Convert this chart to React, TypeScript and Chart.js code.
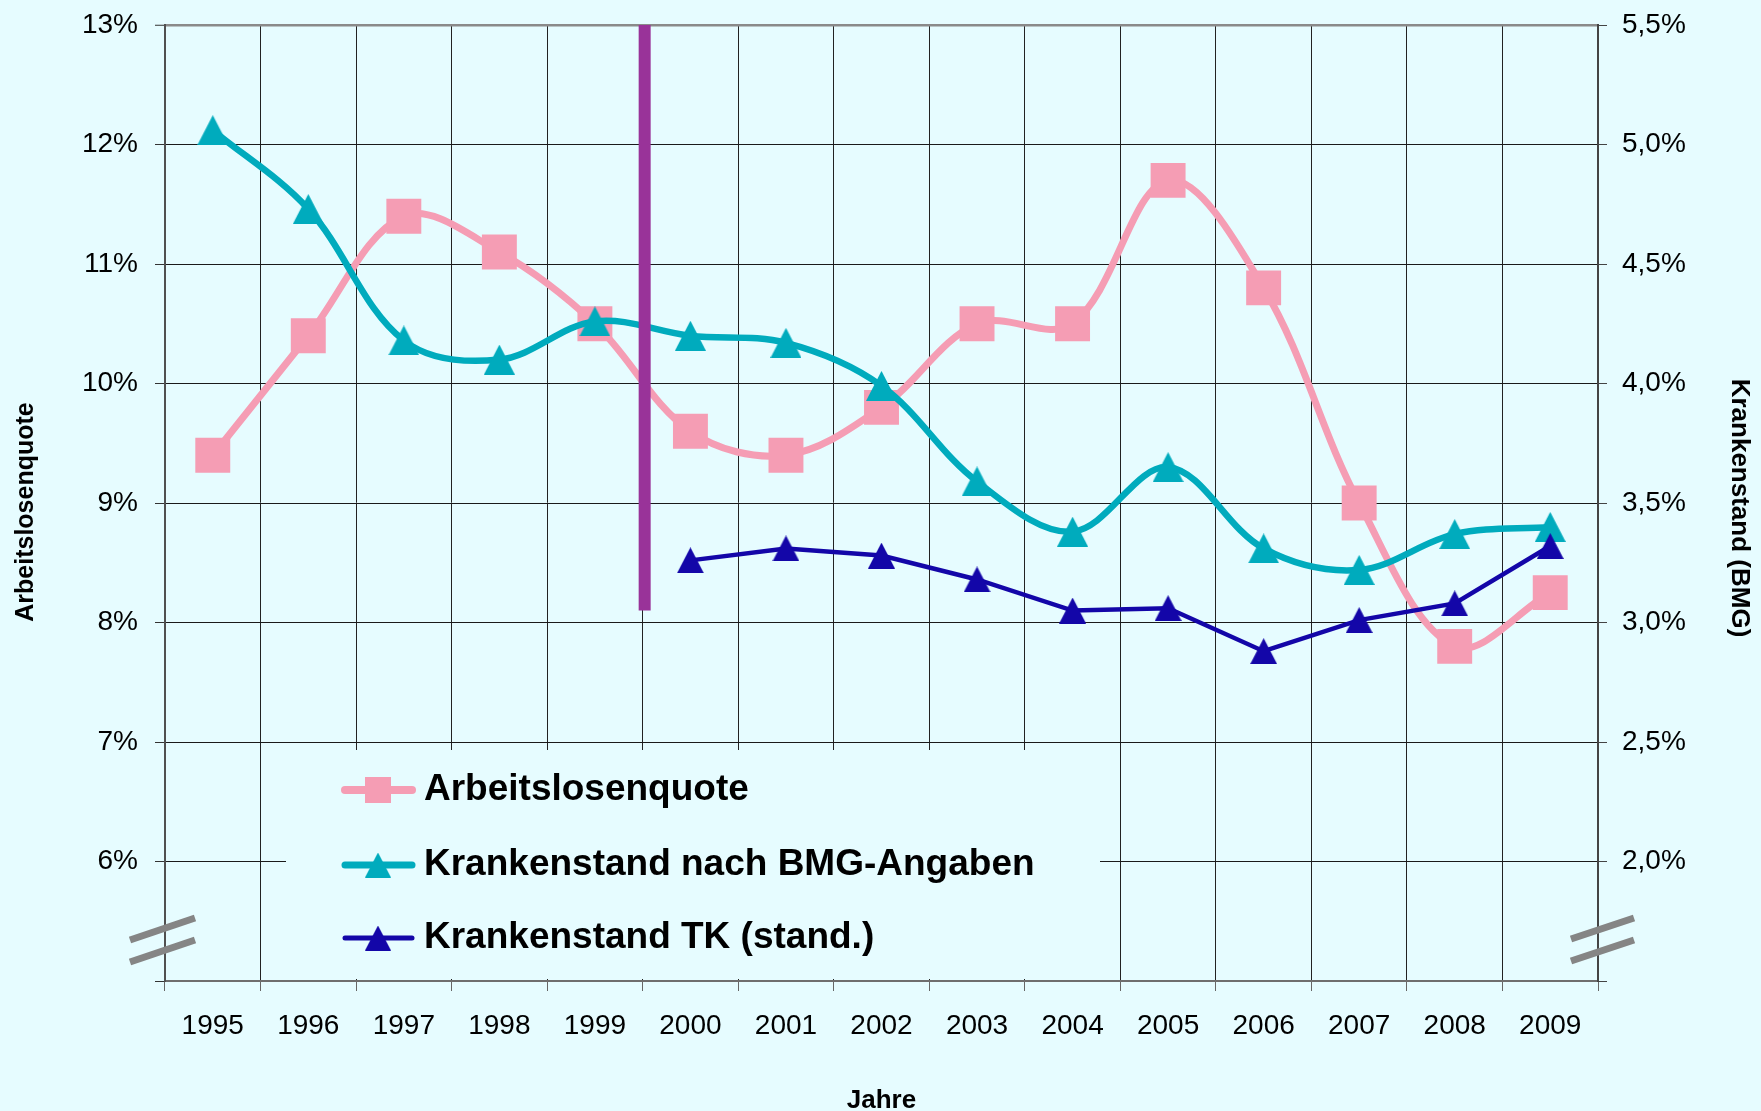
import React, { useEffect, useRef } from 'react';
import { Chart, registerables } from 'chart.js';

Chart.register(...registerables);

// ---------- data ----------
const years = ['1995', '1996', '1997', '1998', '1999', '2000', '2001', '2002', '2003', '2004', '2005', '2006', '2007', '2008', '2009'];
const arbeitslosenquote = [9.4, 10.4, 11.4, 11.1, 10.5, 9.6, 9.4, 9.8, 10.5, 10.5, 11.7, 10.8, 9.0, 7.8, 8.25];
const krankenstandBMG = [5.06, 4.73, 4.18, 4.1, 4.26, 4.2, 4.17, 3.99, 3.59, 3.38, 3.65, 3.31, 3.22, 3.37, 3.4];
const krankenstandTK = [null, null, null, null, null, 3.26, 3.31, 3.28, 3.18, 3.05, 3.06, 2.88, 3.01, 3.08, 3.32];
const seriesLabels = ['Arbeitslosenquote', 'Krankenstand nach BMG-Angaben', 'Krankenstand TK (stand.)'];
const leftAxisRange = [5, 13];
const leftAxisStep = 1;
const leftHiddenTick = 5;
const rightAxisRange = [1.5, 5.5];
const rightAxisStep = 0.5;
const rightHiddenTick = 1.5;
const leftTitle = 'Arbeitslosenquote';
const rightTitle = 'Krankenstand (BMG)';
const xTitle = 'Jahre';
const dividerAfterIndex = 4; // between 1999 and 2000
const dividerRange = [8.1, 13];

// ---------- styles ----------
const BG = '#E6FCFF';
const PINK = '#F59DB4';
const TEAL = '#00ABBD';
const NAVY = '#1306A8';
const PURPLE = '#993399';
const FONT = '"Liberation Sans", Arial, sans-serif';

function makeTriangle(w: number, h: number, color: string) {
  const c = document.createElement('canvas');
  c.width = w;
  c.height = h;
  const g = c.getContext('2d')!;
  g.fillStyle = color;
  g.beginPath();
  g.moveTo(w / 2, 0);
  g.lineTo(w, h);
  g.lineTo(0, h);
  g.closePath();
  g.fill();
  return c;
}

export default function App() {
  const ref = useRef<HTMLCanvasElement>(null);

  useEffect(() => {
    const canvas = ref.current!;
    const tealTri = makeTriangle(31, 30, TEAL);
    const navyTri = makeTriangle(27, 26, NAVY);
    const tealLegTri = makeTriangle(26, 25, TEAL);
    const navyLegTri = makeTriangle(26, 25, NAVY);

    const overlay = {
      id: 'overlay',
      afterDatasetsDraw(chart: any) {
        const { ctx, scales } = chart;
        const xs = scales.x;
        const ys = scales.y;
        const px = (xs.getPixelForValue(dividerAfterIndex) + xs.getPixelForValue(dividerAfterIndex + 1)) / 2 + 2;
        ctx.save();
        ctx.strokeStyle = PURPLE;
        ctx.lineWidth = 12;
        ctx.lineCap = 'butt';
        ctx.beginPath();
        ctx.moveTo(px, ys.getPixelForValue(dividerRange[1]));
        ctx.lineTo(px, ys.getPixelForValue(dividerRange[0]));
        ctx.stroke();
        ctx.restore();
      },
      afterDraw(chart: any) {
        const { ctx, chartArea: ca } = chart;
        ctx.save();
        // legend box (covers gridlines)
        ctx.fillStyle = BG;
        ctx.fillRect(286, 750, 1100 - 286, 979 - 750);
        const rows = [790, 865, 938];
        const lineW = [8, 7, 5];
        const colors = [PINK, TEAL, NAVY];
        chart.data.datasets.forEach((ds: any, i: number) => {
          const cy = rows[i];
          ctx.strokeStyle = colors[i];
          ctx.lineWidth = lineW[i];
          ctx.lineCap = 'round';
          ctx.beginPath();
          ctx.moveTo(345, cy);
          ctx.lineTo(412, cy);
          ctx.stroke();
          if (i === 0) {
            ctx.fillStyle = PINK;
            ctx.fillRect(378 - 13, cy - 13, 26, 26);
          } else {
            const img = i === 1 ? tealLegTri : navyLegTri;
            ctx.drawImage(img, 378 - img.width / 2, cy - img.height / 2);
          }
          ctx.fillStyle = '#000';
          ctx.font = `bold 37px ${FONT}`;
          ctx.textAlign = 'left';
          ctx.textBaseline = 'middle';
          ctx.fillText(ds.label, 424, cy);
        });

        // axis titles
        ctx.fillStyle = '#000';
        ctx.textAlign = 'center';
        ctx.textBaseline = 'middle';
        ctx.font = `bold 25px ${FONT}`;
        ctx.save();
        ctx.translate(26, 512);
        ctx.rotate(-Math.PI / 2);
        ctx.fillText(leftTitle, 0, 0);
        ctx.restore();
        ctx.font = `bold 26px ${FONT}`;
        ctx.save();
        ctx.translate(1739, 508);
        ctx.rotate(Math.PI / 2);
        ctx.fillText(rightTitle, 0, 0);
        ctx.restore();
        ctx.fillText(xTitle, (ca.left + ca.right) / 2, 1101);

        // axis break marks
        ctx.strokeStyle = '#858585';
        ctx.lineWidth = 7;
        ctx.lineCap = 'butt';
        const marks = [
          [ca.left - 35, 940, ca.left + 30, 918],
          [ca.left - 35, 962, ca.left + 30, 940],
          [ca.right - 27, 939, ca.right + 36, 918],
          [ca.right - 27, 961, ca.right + 36, 940],
        ];
        marks.forEach(([a, b, c, d]) => {
          ctx.beginPath();
          ctx.moveTo(a, b);
          ctx.lineTo(c, d);
          ctx.stroke();
        });
        ctx.restore();
      },
    };

    const chart = new Chart(canvas, {
      type: 'line',
      data: {
        labels: years,
        datasets: [
          {
            label: seriesLabels[0],
            data: arbeitslosenquote,
            yAxisID: 'y',
            borderColor: PINK,
            backgroundColor: PINK,
            borderWidth: 7,
            tension: 0.35,
            pointStyle: 'rect',
            pointRadius: 24.7,
            pointBorderWidth: 0,
            pointBackgroundColor: PINK,
            order: 3,
          },
          {
            label: seriesLabels[1],
            data: krankenstandBMG,
            yAxisID: 'y1',
            borderColor: TEAL,
            backgroundColor: TEAL,
            borderWidth: 6.5,
            tension: 0.35,
            pointStyle: tealTri as any,
            pointRadius: 15,
            pointBorderWidth: 0,
            order: 2,
          },
          {
            label: seriesLabels[2],
            data: krankenstandTK as any,
            yAxisID: 'y1',
            borderColor: NAVY,
            backgroundColor: NAVY,
            borderWidth: 4.5,
            tension: 0,
            pointStyle: navyTri as any,
            pointRadius: 12,
            pointBorderWidth: 0,
            spanGaps: false,
            order: 1,
          },
        ],
      },
      options: {
        responsive: false,
        animation: false,
        devicePixelRatio: 1,
        layout: { padding: { top: 25, left: 0, right: 0, bottom: 0 } },
        plugins: { legend: { display: false }, tooltip: { enabled: false } },
        events: [],
        scales: {
          x: {
            type: 'category',
            offset: true,
            afterFit: (s: any) => { s.height = 130; },
            grid: {
              offset: true,
              color: '#222',
              lineWidth: 1,
              tickLength: 10,
              tickColor: '#666',
              drawTicks: true,
            },
            border: { color: '#6e6e6e', width: 2, z: 1 },
            ticks: {
              color: '#000',
              font: { family: FONT, size: 28 },
              padding: 18,
              maxRotation: 0,
              autoSkip: false,
            },
          },
          y: {
            position: 'left',
            min: leftAxisRange[0],
            max: leftAxisRange[1],
            afterFit: (s: any) => { s.width = 165; s.paddingTop = 0; s.paddingBottom = 0; },
            grid: {
              color: (c: any) => (c.tick && c.tick.value === leftAxisRange[1] ? '#8a8a8a' : '#1a1a1a'),
              lineWidth: (c: any) => (c.tick && c.tick.value === leftAxisRange[1] ? 2.5 : 1),
              tickLength: 10,
              tickColor: '#333',
              tickWidth: 1,
            },
            border: { color: '#505050', width: 2, z: 1 },
            ticks: {
              stepSize: leftAxisStep,
              color: '#000',
              font: { family: FONT, size: 28 },
              padding: 17,
              callback: (v: any) => (v === leftHiddenTick ? '' : `${v}%`),
            },
          },
          y1: {
            position: 'right',
            min: rightAxisRange[0],
            max: rightAxisRange[1],
            afterFit: (s: any) => { s.width = 163; s.paddingTop = 0; s.paddingBottom = 0; },
            grid: {
              drawOnChartArea: false,
              tickLength: 9,
              tickColor: '#444',
              tickWidth: 1,
            },
            border: { color: '#444', width: 2, z: 1 },
            ticks: {
              stepSize: rightAxisStep,
              color: '#000',
              font: { family: FONT, size: 28 },
              padding: 15,
              callback: (v: any) => (Math.abs(v - rightHiddenTick) < 1e-9 ? '' : `${Number(v).toFixed(1).replace('.', ',')}%`),
            },
          },
        },
      },
      plugins: [overlay],
    } as any);

    return () => chart.destroy();
  }, []);

  return (
    <div style={{ position: 'fixed', left: 0, top: 0, width: 1761, height: 1111, background: BG }}>
      <canvas ref={ref} width={1761} height={1111} style={{ display: 'block', width: 1761, height: 1111 }} />
    </div>
  );
}
